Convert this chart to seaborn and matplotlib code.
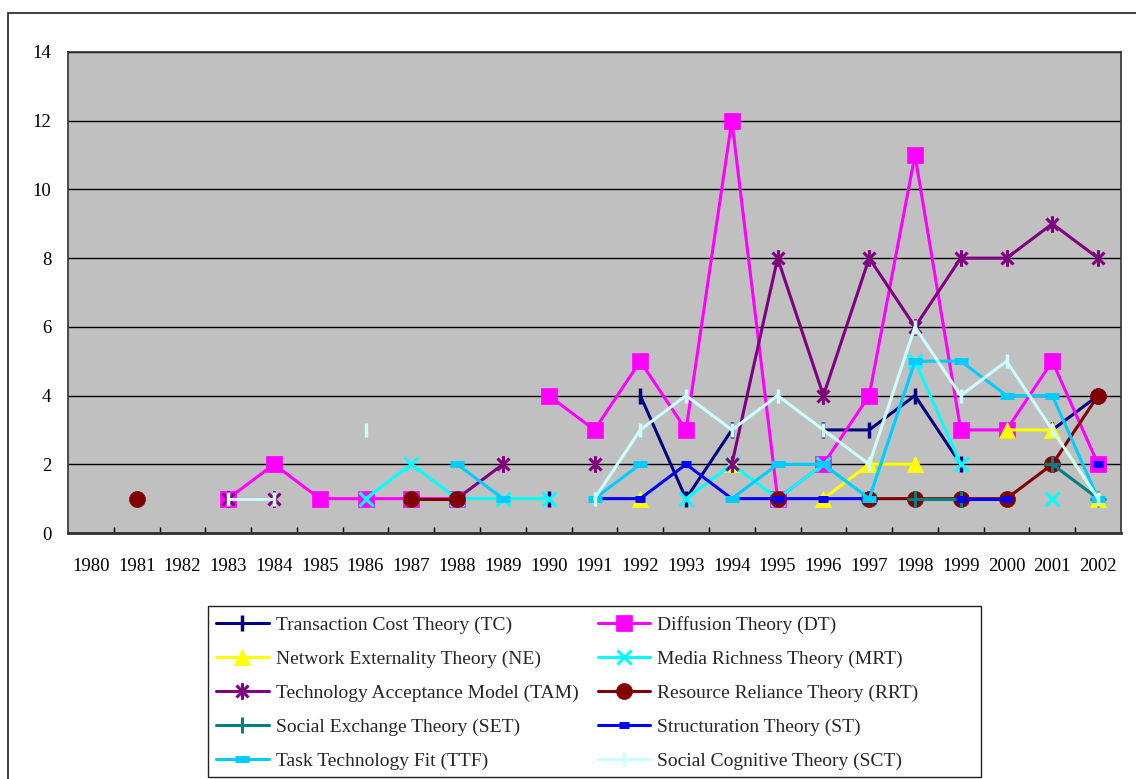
import numpy as np
import pandas as pd
import matplotlib
matplotlib.use("Agg")
import matplotlib.pyplot as plt
import seaborn as sns
from matplotlib.path import Path
from matplotlib.patches import Rectangle

# ---------------- data ----------------
N = None
years = [str(y) for y in range(1980, 2003)]

tc   = [N, N, N, N, N, N, N, N, N, N, 1, N, 4, 1, 3, N, 3, 3, 4, 2, N, 3, 4]
dt   = [N, N, N, 1, 2, 1, 1, 1, 1, N, 4, 3, 5, 3, 12, 1, 2, 4, 11, 3, 3, 5, 2]
ne   = [N, N, N, N, N, N, N, N, N, N, N, N, 1, N, 2, N, 1, 2, 2, N, 3, 3, 1]
mrt  = [N, N, N, N, N, N, 1, 2, 1, 1, 1, N, N, 1, 2, 1, 2, 1, 5, 2, N, 1, N]
tam  = [N, N, N, 1, 1, N, N, N, 1, 2, N, 2, N, N, 2, 8, 4, 8, 6, 8, 8, 9, 8]
rrt  = [N, 1, N, N, N, N, N, 1, 1, N, N, N, N, N, N, 1, N, 1, 1, 1, 1, 2, 4]
set_ = [N, N, N, N, N, N, N, N, N, N, N, N, N, N, N, N, N, N, 1, 1, N, 2, 1]
st   = [N, N, N, N, N, N, N, N, N, N, N, 1, 1, 2, 1, 1, 1, 1, N, 1, 1, N, 2]
ttf  = [N, N, N, N, N, N, N, N, 2, 1, N, 1, 2, N, 1, 2, 2, 1, 5, 5, 4, 4, 1]
sct  = [N, N, N, 1, 1, N, 3, N, N, N, N, 1, 3, 4, 3, 4, 3, 2, 6, 4, 5, 3, 1]

labels = ["Transaction Cost Theory (TC)", "Diffusion Theory (DT)",
          "Network Externality Theory (NE)", "Media Richness Theory (MRT)",
          "Technology Acceptance Model (TAM)", "Resource Reliance Theory (RRT)",
          "Social Exchange Theory (SET)", "Structuration Theory (ST)",
          "Task Technology Fit (TTF)", "Social Cognitive Theory (SCT)"]
series = [tc, dt, ne, mrt, tam, rrt, set_, st, ttf, sct]

# ---------------- styles ----------------
star = Path([(0, -1), (0, 1), (-0.72, -0.72), (0.72, 0.72), (-0.72, 0.72), (0.72, -0.72)],
            [Path.MOVETO, Path.LINETO, Path.MOVETO, Path.LINETO, Path.MOVETO, Path.LINETO])
styles = [
    dict(color="#000080", marker="|", ms=11, mew=2.5),
    dict(color="#FF00FF", marker="s", ms=11, mew=0.5),
    dict(color="#FFFF00", marker="^", ms=12, mew=0.5),
    dict(color="#00FFFF", marker="x", ms=10, mew=2.2),
    dict(color="#800080", marker=star, ms=12, mew=2.2),
    dict(color="#800000", marker="o", ms=11.5, mew=0.5),
    dict(color="#008080", marker="+", ms=11, mew=2.2),
    dict(color="#0000FF", marker="_", ms=7, mew=5),
    dict(color="#00CCFF", marker="_", ms=10, mew=5),
    dict(color="#CCFFFF", marker="|", ms=10, mew=2.5),
]

sns.set_theme(style="white")
plt.rcParams['font.family'] = ['Liberation Serif', 'DejaVu Serif']

W, H = 1136, 779
fig = plt.figure(figsize=(W / 100, H / 100), dpi=100)
ax = fig.add_axes([68 / W, 1 - 533 / H, (1121 - 68) / W, (533 - 52) / H])
ax.set_facecolor("#C0C0C0")


def segments(vals):
    rows, seg, prev = [], 0, False
    for i, v in enumerate(vals):
        if v is None:
            prev = False
            continue
        if not prev:
            seg += 1
        rows.append((i, v, seg))
        prev = True
    return pd.DataFrame(rows, columns=["pos", "val", "seg"])


handles = []
for k, (vals, st_) in enumerate(zip(series, styles)):
    df = segments(vals)
    n0 = len(ax.lines)
    sns.lineplot(data=df, x="pos", y="val", units="seg", estimator=None,
                 color=st_["color"], lw=2.2, marker=st_["marker"],
                 markersize=st_["ms"], markeredgewidth=st_["mew"],
                 markeredgecolor=st_["color"], markerfacecolor=st_["color"],
                 ax=ax, legend=False, zorder=3 + k, sort=True)
    handles.append(ax.lines[n0])

# ---------------- axes ----------------
ax.set_xlim(-0.5, len(years) - 0.5)
ax.set_ylim(0, 14)
ax.set_yticks(range(0, 15, 2))
ax.set_xticks(range(len(years)))
ax.set_xticklabels(years)
ax.set_xticks(np.arange(0.5, len(years) - 1, 1), minor=True)
ax.set_xlabel("")
ax.set_ylabel("")
ax.tick_params(axis="x", which="major", length=0, pad=18, labelsize=13.5, colors="black")
ax.tick_params(axis="x", which="minor", direction="in", length=4.5, width=1, color="black", bottom=True)
ax.tick_params(axis="y", length=0, pad=12, labelsize=13.5, colors="black")
ax.yaxis.grid(True, color="black", lw=1)
ax.xaxis.grid(False)
ax.set_axisbelow(True)
for s in ["top", "right", "left"]:
    ax.spines[s].set_visible(True)
    ax.spines[s].set_color("#303030")
    ax.spines[s].set_linewidth(1.2)
ax.spines["bottom"].set_color("#303030")
ax.spines["bottom"].set_linewidth(2)

# outer chart border and legend box
fig.patches.append(Rectangle((8 / W, -0.05), 1.1, (H - 13) / H + 0.05,
                             transform=fig.transFigure, fill=False,
                             ec="#303030", lw=1.3))
fig.patches.append(Rectangle((208 / W, 1 - 777 / H), (981 - 208) / W, (777 - 606) / H,
                             transform=fig.transFigure, fill=False,
                             ec="#202020", lw=1.0))

order = list(range(0, 10, 2)) + list(range(1, 10, 2))
fig.legend([handles[i] for i in order], [labels[i] for i in order],
           ncol=2, loc="center left", bbox_to_anchor=(216 / W, 1 - 693 / H),
           frameon=False, fontsize=14, handlelength=2.7, handletextpad=0.36,
           columnspacing=1.0, labelspacing=0.83, borderpad=0, borderaxespad=0)

fig.savefig("out.png", dpi=100)
